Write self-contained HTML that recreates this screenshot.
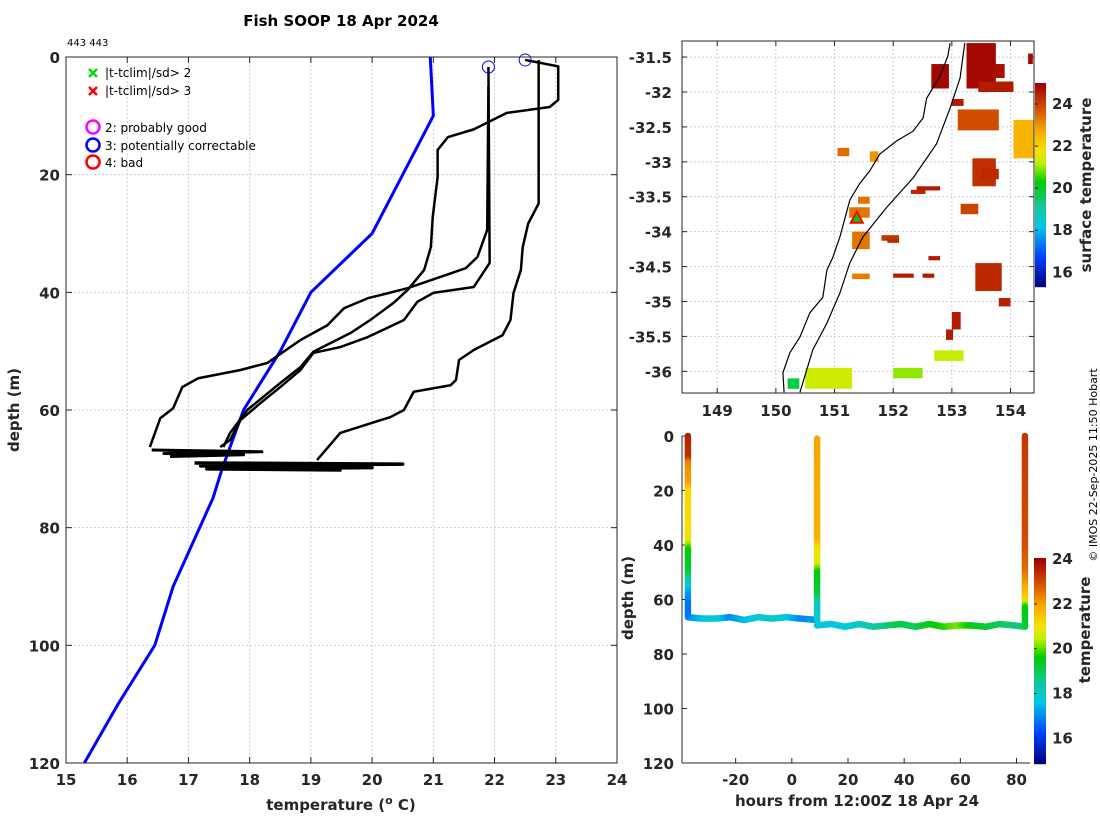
<!DOCTYPE html>
<html><head><meta charset="utf-8">
<style>
html,body{margin:0;padding:0;background:#fff;}
svg{display:block;font-family:"DejaVu Sans","Liberation Sans",sans-serif;}
.tk{font-size:15px;font-weight:bold;fill:#262626;}
</style></head>
<body>
<svg id="fig" width="1100" height="820" viewBox="0 0 1100 820" xmlns="http://www.w3.org/2000/svg">
<text x="341" y="26" text-anchor="middle" font-size="15" font-weight="bold" fill="#000">Fish SOOP 18 Apr 2024</text>
<text x="67" y="46" font-size="10" fill="#000">443 443</text>
<g id="main"></g>
<g id="map"></g>
<g id="sec"></g>
<text transform="translate(1097,465) rotate(-90)" text-anchor="middle" font-size="11" fill="#000">© IMOS 22-Sep-2025 11:50 Hobart</text>
</svg>
<script>
// ---------- data: main profile plot ----------
const tempTicks=[15,16,17,18,19,20,21,22,23,24];
const depthTicks=[0,20,40,60,80,100,120];
const climT=[20.95,21.0,20.0,19.0,18.5,17.9,17.55,17.4,16.75,16.45,15.85,15.3];
const climD=[0,10,30,40,50,60,70,75,90,100,110,120];
const p1T=[22.5,23.04,23.04,22.9,22.2,21.66,21.24,21.07,21.07,20.99,20.96,20.85,20.58,20.35,19.97,19.65,19.04,18.83,18.5,17.96,17.68,17.57];
const p1D=[0.5,1.6,7.3,8.5,9.5,12.3,13.6,15.8,20.4,27.2,32.3,36.2,39.6,41.8,44.7,46.9,50.1,52.7,55.4,60,63.9,66.3];
const p2T=[22.72,22.72,22.55,22.46,22.43,22.31,22.26,22.13,21.66,21.42,21.37,21.28,20.68,20.52,20.3,19.48,19.1];
const p2D=[0.5,24.9,28.3,32.3,36.2,40.1,44.7,47.3,49.8,51.5,54.9,55.8,56.9,60,61.2,63.9,68.5];
const p3T=[21.9,21.92,21.66,21.0,20.74,20.52,19.93,19.48,19.04,18.83,18.5,18.18,17.85,17.68,17.52];
const p3D=[1.7,35,39.1,40.1,41.6,44.7,47.6,49.3,50.3,53.2,56.1,58.8,61.7,65.1,66.3];
const p4T=[21.9,21.88,21.72,21.53,20.58,19.93,19.54,19.27,18.83,18.29,17.85,17.16,16.9,16.75,16.54,16.37];
const p4D=[5,29.4,34,35.9,39.3,41,42.7,45.6,48.1,52,53.2,54.6,56.1,59.7,61.4,66.3];
const smearAT=[16.4,18.2,16.6,17.9,16.7];
const smearAD=[66.8,67.1,67.4,67.6,67.9];
const smearBT=[17.1,20.5,17.2,20.0,17.3,19.5];
const smearBD=[69.0,69.2,69.5,69.8,70.0,70.2];
const flagT=[21.9,22.5];
const flagD=[1.7,0.5];

// ---------- data: map ----------
const lonTicks=[149,150,151,152,153,154];
const latTicks=[-31.5,-32,-32.5,-33,-33.5,-34,-34.5,-35,-35.5,-36];
const sstTicks=[16,18,20,22,24];
const coastLon=[152.97,152.93,152.80,152.57,152.51,152.34,152.06,151.77,151.60,151.43,151.26,151.18,151.09,150.97,150.87,150.80,150.58,150.41,150.24,150.12,150.14];
const coastLat=[-31.30,-31.49,-31.77,-32.09,-32.37,-32.56,-32.70,-32.89,-33.13,-33.31,-33.55,-33.80,-34.08,-34.37,-34.55,-34.94,-35.16,-35.51,-35.73,-36.02,-36.30];
const shelfLon=[153.22,153.14,152.97,152.74,152.34,151.89,151.48,151.26,151.09,150.87,150.63,150.41];
const shelfLat=[-31.30,-31.80,-32.23,-32.74,-33.23,-33.65,-34.08,-34.45,-34.88,-35.31,-35.69,-36.30];
const patchLon=[153.25,152.65,153.45,153.1,154.05,153.35,152.3,151.25,151.3,151.8,153.4,152.0,151.3,153.0,150.5,150.2,152.0,151.05,153.5,152.6,152.9,153.8,153.0,153.7,152.4,151.4,152.7,153.15,151.6,154.3,151.9,152.5];
const patchLat=[-31.3,-31.6,-31.85,-32.25,-32.4,-32.95,-33.4,-33.65,-34.0,-34.05,-34.45,-34.6,-34.6,-35.15,-35.95,-36.1,-35.95,-32.8,-33.1,-34.35,-35.4,-34.95,-32.1,-31.6,-33.35,-33.5,-35.7,-33.6,-32.85,-31.45,-34.1,-34.6];
const patchW=[0.5,0.3,0.6,0.7,0.35,0.4,0.25,0.35,0.3,0.3,0.45,0.35,0.3,0.15,0.8,0.2,0.5,0.2,0.3,0.2,0.12,0.2,0.2,0.2,0.4,0.2,0.5,0.3,0.15,0.08,0.2,0.2];
const patchH=[0.65,0.35,0.15,0.3,0.55,0.4,0.06,0.15,0.25,0.08,0.4,0.06,0.08,0.25,0.3,0.15,0.15,0.12,0.15,0.06,0.15,0.12,0.1,0.2,0.06,0.1,0.15,0.15,0.15,0.15,0.06,0.06];
const patchT=[24.9,24.9,24.6,23.9,22.6,24.3,24.4,23.4,23.4,24.2,24.4,24.6,23.3,24.6,21.4,19.8,21.0,23.5,24.4,24.6,24.6,24.5,24.6,24.8,24.6,23.4,21.3,24.0,23.0,24.9,24.4,24.6];
const stnLon=[151.38];
const stnLat=[-33.8];

// ---------- data: section ----------
const hourTicks=[-20,0,20,40,60,80];
const secTTicks=[16,18,20,22,24];
const castTime=[-37,9,83];
const castD=[[0,8,10,18,20,38,42,50,54,58,62,66],[1,38,42,47,50,58,62,68],[0,10,40,50,55,60,63,70]];
const castTemp=[[23.6,23.4,22.3,22.0,21.2,21.0,19.6,19.3,18.0,17.2,16.8,16.8],[22.0,21.8,21.0,20.8,19.6,19.3,18.0,17.8],[23.3,23.2,23.0,22.6,22.0,21.3,19.6,19.3]];
const tow1Time=[-37,-32,-27,-22,-17,-12,-7,-2,3,9];
const tow1D=[66.5,67,67,66.5,67.5,66.5,67,66.5,67,67.5];
const tow1T=[17.0,17.5,18.0,17.0,17.5,17.8,18.0,17.8,17.0,17.2];
const tow2Time=[9,14,19,24,29,34,39,44,49,54,59,64,69,74,79,83];
const tow2D=[69.5,69,70,69,70,69.5,69,70,69,70,69.5,69.5,70,69,69.5,70];
const tow2T=[18.0,17.6,17.8,18.0,18.4,18.8,19.2,19.0,19.5,19.8,20.2,19.5,19.3,19.0,18.8,18.8];

// ---------- helpers ----------
const NS='http://www.w3.org/2000/svg';
function mk(parent,tag,attrs){const e=document.createElementNS(NS,tag);for(const k in attrs)e.setAttribute(k,attrs[k]);parent.appendChild(e);return e;}
const cmapF=[0,0.15,0.3,0.4,0.52,0.61,0.67,0.77,0.88,1];
const cmapC=[[0,0,122],[0,64,255],[0,200,230],[20,200,150],[0,205,0],[190,240,0],[245,225,0],[248,170,0],[210,80,0],[160,0,0]];
function cmap(v,lo,hi){const f0=Math.max(0,Math.min(1,(v-lo)/(hi-lo)));for(let i=1;i<cmapF.length;i++){if(f0<=cmapF[i]){const f=(f0-cmapF[i-1])/(cmapF[i]-cmapF[i-1]);const a=cmapC[i-1],b=cmapC[i];return `rgb(${a.map((x,j)=>Math.round(x+(b[j]-x)*f)).join(',')})`;}}return `rgb(${cmapC[cmapC.length-1]})`;}

// ---------- main plot ----------
(function(){
const g=document.getElementById('main');
const L=66,R=617,T=57,B=763;
const X=t=>L+(t-15)/(24-15)*(R-L), Y=d=>T+d/120*(B-T);
tempTicks.forEach(t=>{const l=mk(g,'line',{x1:X(t),x2:X(t),y1:T,y2:B,stroke:'#c8cce8','stroke-dasharray':'2,2','stroke-width':1});


const tx=mk(g,'text',{x:X(t),y:B+22,'text-anchor':'middle',class:'tk'});tx.textContent=t;


mk(g,'line',{x1:X(t),x2:X(t),y1:B,y2:B-6,stroke:'#262626'});mk(g,'line',{x1:X(t),x2:X(t),y1:T,y2:T+6,stroke:'#262626'});});
depthTicks.forEach(d=>{const l=mk(g,'line',{x1:L,x2:R,y1:Y(d),y2:Y(d),stroke:'#c8cce8','stroke-dasharray':'2,2','stroke-width':1});


const tx=mk(g,'text',{x:L-6,y:Y(d)+6,'text-anchor':'end',class:'tk'});tx.textContent=d;


mk(g,'line',{x1:L,x2:L+6,y1:Y(d),y2:Y(d),stroke:'#262626'});mk(g,'line',{x1:R,x2:R-6,y1:Y(d),y2:Y(d),stroke:'#262626'});});
function line(ts,ds,col,w,name){const p=mk(g,'polyline',{points:ts.map((t,i)=>X(t)+','+Y(ds[i])).join(' '),fill:'none',stroke:col,'stroke-width':w,'stroke-linejoin':'round'});

}
line(climT,climD,'#0000ff',3,'climatology-line');
line(p1T,p1D,'#000',2.5,'profile-1');
line(p2T,p2D,'#000',2.5,'profile-2');
line(p3T,p3D,'#000',2.5,'profile-3');
line(p4T,p4D,'#000',2.5,'profile-4');
line(smearAT,smearAD,'#000',3,'bottom-smear-1');
line(smearBT,smearBD,'#000',3.5,'bottom-smear-2');
flagT.forEach((t,i)=>{const c=mk(g,'circle',{cx:X(t),cy:Y(flagD[i]),r:6,fill:'none',stroke:'#0000ff','stroke-width':1});

});
mk(g,'rect',{x:L,y:T,width:R-L,height:B-T,fill:'none',stroke:'#262626','stroke-width':1});
const lg=mk(g,'g',{});


[[73,'#00dd00','|t-tclim|/sd> 2'],[91,'#ff0000','|t-tclim|/sd> 3']].forEach(([y,c,s])=>{
mk(lg,'path',{d:`M89 ${y-4}l8 8M97 ${y-4}l-8 8`,stroke:c,'stroke-width':2.5});
const t=mk(lg,'text',{x:105,y:y+4,'font-size':12,fill:'#000'});t.textContent=s;

});
[[127,'#ff00ff','2: probably good'],[145,'#0000ff','3: potentially correctable'],[162,'#ff0000','4: bad']].forEach(([y,c,s])=>{
mk(lg,'circle',{cx:93,cy:y,r:6.5,fill:'none',stroke:c,'stroke-width':2.5});
const t=mk(lg,'text',{x:105,y:y+5,'font-size':12,fill:'#000'});t.textContent=s;

});
const yl=mk(g,'text',{transform:'translate(19,410) rotate(-90)','text-anchor':'middle',class:'tk','font-size':16});yl.textContent='depth (m)';


const xl=mk(g,'text',{x:341,y:810,'text-anchor':'middle',class:'tk','font-size':16});
xl.innerHTML='temperature (<tspan dy="-6" font-size="11">o</tspan><tspan dy="6"> C)</tspan>';


})();

// ---------- map ----------
(function(){
const g=document.getElementById('map');
const L=682,R=1034,T=41,B=393;
const lon0=148.4,lon1=154.4,lat0=-31.27,lat1=-36.31;
const lo=15.3,hi=25;
const X=v=>L+(v-lon0)/(lon1-lon0)*(R-L), Y=v=>T+(v-lat0)/(lat1-lat0)*(B-T);
const clip=mk(g,'clipPath',{id:'mapclip'});mk(clip,'rect',{x:L,y:T,width:R-L,height:B-T});
lonTicks.forEach(v=>{mk(g,'line',{x1:X(v),x2:X(v),y1:T,y2:B,stroke:'#c8cce8','stroke-dasharray':'2,2'});
const t=mk(g,'text',{x:X(v),y:B+23,'text-anchor':'middle',class:'tk'});t.textContent=v;


mk(g,'line',{x1:X(v),x2:X(v),y1:T,y2:T+5,stroke:'#262626'});mk(g,'line',{x1:X(v),x2:X(v),y1:B,y2:B-5,stroke:'#262626'});});
latTicks.forEach(v=>{mk(g,'line',{x1:L,x2:R,y1:Y(v),y2:Y(v),stroke:'#c8cce8','stroke-dasharray':'2,2'});
const t=mk(g,'text',{x:L-10,y:Y(v)+6,'text-anchor':'end',class:'tk'});t.textContent=v;


mk(g,'line',{x1:L,x2:L+5,y1:Y(v),y2:Y(v),stroke:'#262626'});mk(g,'line',{x1:R,x2:R-5,y1:Y(v),y2:Y(v),stroke:'#262626'});});
const pg=mk(g,'g',{'clip-path':'url(#mapclip)'});
patchLon.forEach((v,i)=>{const r=mk(pg,'rect',{x:X(v),y:Y(patchLat[i]),width:X(v+patchW[i])-X(v),height:Y(patchLat[i]-patchH[i])-Y(patchLat[i]),fill:cmap(patchT[i],lo,hi)});

});
const c1=mk(pg,'polyline',{points:coastLon.map((v,i)=>X(v)+','+Y(coastLat[i])).join(' '),fill:'none',stroke:'#000','stroke-width':1.2});


const c2=mk(pg,'polyline',{points:shelfLon.map((v,i)=>X(v)+','+Y(shelfLat[i])).join(' '),fill:'none',stroke:'#000','stroke-width':1.2});


stnLon.forEach((v,i)=>{const x=X(v),y=Y(stnLat[i]);
const tr=mk(g,'path',{d:`M${x} ${y-6}L${x+6} ${y+5}L${x-6} ${y+5}Z`,fill:'#00cc00',stroke:'#ff0000','stroke-width':2});

});
mk(g,'rect',{x:L,y:T,width:R-L,height:B-T,fill:'none',stroke:'#262626'});
const cb=mk(g,'g',{});


const cT=83,cB=287;const CY=v=>cT+(v-hi)/(lo-hi)*(cB-cT);
for(let y=cT;y<cB;y+=2){const v=hi+(y-cT)/(cB-cT)*(lo-hi);mk(cb,'rect',{x:1035,y:y,width:11,height:2.2,fill:cmap(v,lo,hi)});}
sstTicks.forEach(v=>{mk(cb,'line',{x1:1035,x2:1038,y1:CY(v),y2:CY(v),stroke:'#262626'});
const t=mk(cb,'text',{x:1052,y:CY(v)+5,class:'tk','font-size':13});t.textContent=v;

});
const lb=mk(g,'text',{transform:'translate(1091,185) rotate(-90)','text-anchor':'middle',class:'tk','font-size':14});lb.textContent='surface temperature';


})();

// ---------- section ----------
(function(){
const g=document.getElementById('sec');
const L=682,R=1030,T=436,B=763;
const h0=-39.1,h1=84.8;
const lo=14.9,hi=24.05;
const X=h=>L+(h-h0)/(h1-h0)*(R-L), Y=d=>T+d/120*(B-T);
mk(g,'line',{x1:L,x2:L,y1:T,y2:B,stroke:'#262626'});mk(g,'line',{x1:L,x2:R,y1:B,y2:B,stroke:'#262626'});
hourTicks.forEach(h=>{mk(g,'line',{x1:X(h),x2:X(h),y1:B,y2:B-5,stroke:'#262626'});
const t=mk(g,'text',{x:X(h),y:B+22,'text-anchor':'middle',class:'tk'});t.textContent=h;

});
depthTicks.forEach(d=>{mk(g,'line',{x1:L,x2:L+5,y1:Y(d),y2:Y(d),stroke:'#262626'});
const t=mk(g,'text',{x:L-8,y:Y(d)+6,'text-anchor':'end',class:'tk'});t.textContent=d;

});
function interp(xs,ys,x){for(let i=1;i<xs.length;i++)if(x<=xs[i]){const f=(x-xs[i-1])/(xs[i]-xs[i-1]||1);return ys[i-1]+(ys[i]-ys[i-1])*f;}return ys[ys.length-1];}
const dg=mk(g,'g',{});


function dot(h,d,t){mk(dg,'circle',{cx:X(h),cy:Y(d),r:3.3,fill:cmap(t,lo,hi)});}
function tow(ts,ds,tt){for(let h=ts[0];h<=ts[ts.length-1];h+=0.5)dot(h,interp(ts,ds,h),interp(ts,tt,h));}
tow(tow1Time,tow1D,tow1T);
tow(tow2Time,tow2D,tow2T);
castTime.forEach((h,i)=>{const ds=castD[i],ts=castTemp[i];for(let d=ds[0];d<=ds[ds.length-1];d+=0.8)dot(h,d,interp(ds,ts,d));});
const cb=mk(g,'g',{});


const cT=558,cB=763;const CY=v=>cT+(v-hi)/(lo-hi)*(cB-cT);
for(let y=cT;y<cB;y+=2){const v=hi+(y-cT)/(cB-cT)*(lo-hi);mk(cb,'rect',{x:1034,y:y,width:12,height:2.2,fill:cmap(v,lo,hi)});}
secTTicks.forEach(v=>{mk(cb,'line',{x1:1034,x2:1037,y1:CY(v),y2:CY(v),stroke:'#262626'});
const t=mk(cb,'text',{x:1052,y:CY(v)+5,class:'tk','font-size':13});t.textContent=v;

});
const lb=mk(g,'text',{transform:'translate(1090,630) rotate(-90)','text-anchor':'middle',class:'tk','font-size':14});lb.textContent='temperature';


const yl=mk(g,'text',{transform:'translate(633,598) rotate(-90)','text-anchor':'middle',class:'tk','font-size':16});yl.textContent='depth (m)';


const xl=mk(g,'text',{x:857,y:806,'text-anchor':'middle',class:'tk','font-size':16});xl.textContent='hours from 12:00Z 18 Apr 24';


})();
</script>
</body></html>
